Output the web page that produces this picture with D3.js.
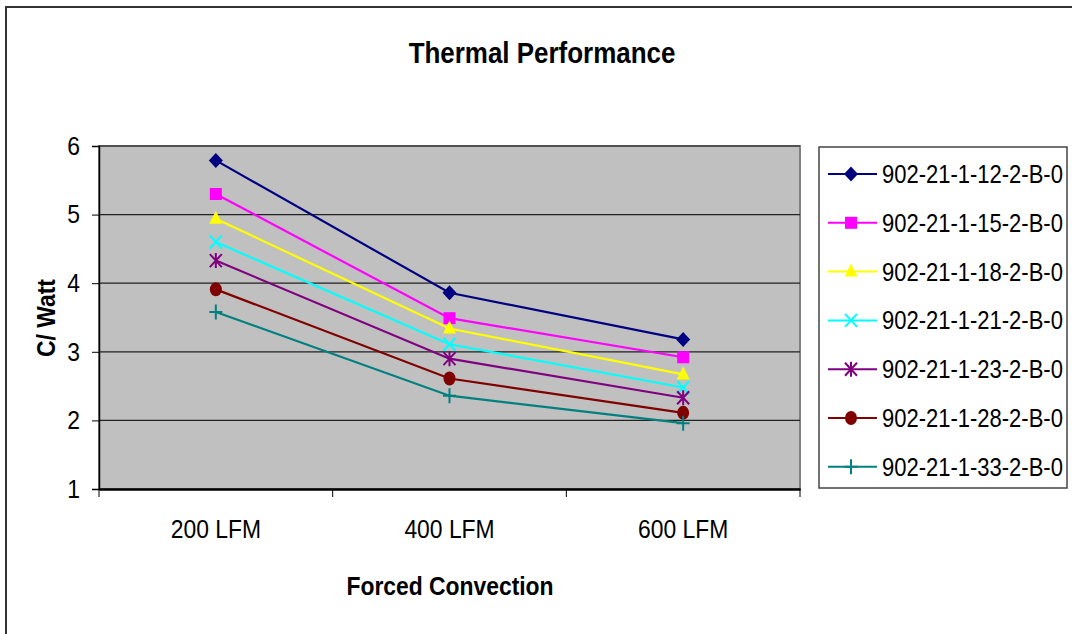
<!DOCTYPE html>
<html>
<head>
<meta charset="utf-8">
<script src="https://cdn.jsdelivr.net/npm/d3@7"></script>
<style>
  body { margin: 0; background: #fff; }
  svg { font-family: "Liberation Sans", Arial, sans-serif; }
</style>
</head>
<body>
<svg id="chart" width="1072" height="634"></svg>
<script>
// data
const categories = ["200 LFM", "400 LFM", "600 LFM"]
const seriesNames = [
  "902-21-1-12-2-B-0", "902-21-1-15-2-B-0", "902-21-1-18-2-B-0",
  "902-21-1-21-2-B-0", "902-21-1-23-2-B-0", "902-21-1-28-2-B-0",
  "902-21-1-33-2-B-0"
]
const v12 = [5.79, 3.86, 3.18]
const v15 = [5.30, 3.49, 2.92]
const v18 = [4.94, 3.34, 2.67]
const v21 = [4.60, 3.11, 2.48]
const v23 = [4.33, 2.90, 2.33]
const v28 = [3.91, 2.61, 2.11]
const v33 = [3.58, 2.36, 1.96]
const yTicks = [1, 2, 3, 4, 5, 6]

const seriesValues = [v12, v15, v18, v21, v23, v28, v33]
const colors = ["#000080", "#FF00FF", "#FFFF00", "#00FFFF", "#800080", "#800000", "#008080"]
const shapes = ["diamond", "square", "triangle", "x", "star", "circle", "plus"]

// the original font is a narrow, tall face: squeeze text horizontally
const squeeze = 0.88

const svg = d3.select("#chart")

// outer chart frame (left and top only visible)
svg.append("path")
    .attr("d", "M6,634 L6,7 L1072,7")
    .attr("fill", "none")
    .attr("stroke", "#333")
    .attr("stroke-width", 2)

const plot = {left: 99, right: 800, top: 146, bottom: 489}

const x = d3.scaleBand().domain(categories).range([plot.left, plot.right])
const y = d3.scaleLinear().domain([1, 6]).range([plot.bottom, plot.top])

// plot area
svg.append("rect")
    .attr("x", plot.left).attr("y", plot.top)
    .attr("width", plot.right - plot.left).attr("height", plot.bottom - plot.top)
    .attr("fill", "#C0C0C0")
    .attr("stroke", "#808080")
    .attr("stroke-width", 2)

// gridlines
svg.append("g")
  .selectAll("line")
  .data(yTicks.slice(1))
  .join("line")
    .attr("x1", plot.left).attr("x2", plot.right)
    .attr("y1", d => y(d)).attr("y2", d => y(d))
    .attr("stroke", "#222")
    .attr("stroke-width", 1.2)

// y axis
const yAxis = svg.append("g")
    .attr("transform", `translate(${plot.left},0)`)
    .call(d3.axisLeft(y).tickValues(yTicks).tickSize(7).tickPadding(12).tickFormat(d3.format("d")))
yAxis.select(".domain").attr("stroke", "#000").attr("stroke-width", 1.5)
yAxis.selectAll(".tick line").attr("stroke", "#000")
yAxis.selectAll("text")
    .attr("font-size", 26).attr("fill", "#000").attr("font-family", null)
    .attr("x", -19 / squeeze)
    .attr("transform", `scale(${squeeze},1)`)

// x axis
const xAxis = svg.append("g")
    .attr("transform", `translate(0,${plot.bottom})`)
    .call(d3.axisBottom(x).tickSize(0).tickPadding(30))
xAxis.select(".domain").attr("stroke", "#000").attr("stroke-width", 2.5)
xAxis.selectAll("text")
    .attr("font-size", 26).attr("fill", "#000").attr("font-family", null)
    .attr("y", 31)
    .attr("transform", `scale(${squeeze},1)`)
// tick marks between categories
xAxis.selectAll(".sep")
  .data(categories.map(c => x(c)).concat([x.range()[1]]))
  .join("line")
    .attr("class", "sep")
    .attr("x1", d => d).attr("x2", d => d)
    .attr("y1", 0).attr("y2", 8)
    .attr("stroke", "#000")

// markers
function markerPath(shape) {
  const p = d3.path()
  if (shape === "diamond") {
    p.moveTo(0, -7.5); p.lineTo(7, 0); p.lineTo(0, 7.5); p.lineTo(-7, 0); p.closePath()
  } else if (shape === "square") {
    p.rect(-6, -6, 12, 12)
  } else if (shape === "triangle") {
    p.moveTo(0, -8); p.lineTo(6.5, 5); p.lineTo(-6.5, 5); p.closePath()
  } else if (shape === "x") {
    p.moveTo(-6, -6.5); p.lineTo(6, 6.5); p.moveTo(6, -6.5); p.lineTo(-6, 6.5)
  } else if (shape === "star") {
    p.moveTo(-6, -6.5); p.lineTo(6, 6.5); p.moveTo(6, -6.5); p.lineTo(-6, 6.5)
    p.moveTo(0, -7.5); p.lineTo(0, 7.5)
  } else if (shape === "plus") {
    p.moveTo(-6.5, 0); p.lineTo(6.5, 0); p.moveTo(0, -7.5); p.lineTo(0, 7.5)
  }
  return p.toString()
}

function drawMarker(g, shape, color) {
  if (shape === "circle") {
    g.append("ellipse").attr("rx", 6).attr("ry", 7).attr("fill", color)
  } else if (shape === "x" || shape === "star" || shape === "plus") {
    g.append("path").attr("d", markerPath(shape)).attr("fill", "none")
      .attr("stroke", color).attr("stroke-width", 2)
  } else {
    g.append("path").attr("d", markerPath(shape)).attr("fill", color)
  }
}

const line = d3.line()
    .x((d, i) => x(categories[i]) + x.bandwidth() / 2)
    .y(d => y(d))

const series = svg.append("g")
  .selectAll("g")
  .data(seriesValues)
  .join("g")

series.append("path")
    .attr("d", d => line(d))
    .attr("fill", "none")
    .attr("stroke", (d, i) => colors[i])
    .attr("stroke-width", 2.2)

series.each(function(vals, si) {
  vals.forEach((v, i) => {
    const g = d3.select(this).append("g")
        .attr("transform", `translate(${x(categories[i]) + x.bandwidth() / 2},${y(v)})`)
    drawMarker(g, shapes[si], colors[si])
  })
})

// titles
svg.append("text")
    .attr("transform", `translate(542,63) scale(${squeeze},1)`)
    .attr("text-anchor", "middle")
    .attr("font-size", 29.5).attr("font-weight", "bold")
    .text("Thermal Performance")

svg.append("text")
    .attr("transform", `translate(450,595) scale(${squeeze},1)`)
    .attr("text-anchor", "middle")
    .attr("font-size", 26).attr("font-weight", "bold")
    .text("Forced Convection")

svg.append("text")
    .attr("transform", `translate(55,318) rotate(-90) scale(${squeeze},1)`)
    .attr("text-anchor", "middle")
    .attr("font-size", 26).attr("font-weight", "bold")
    .text("C/ Watt")

// legend
const legend = svg.append("g")
legend.append("rect")
    .attr("x", 819).attr("y", 147)
    .attr("width", 248).attr("height", 341)
    .attr("fill", "#fff")
    .attr("stroke", "#444")
    .attr("stroke-width", 1.5)

const item = legend.selectAll(".item")
  .data(seriesNames)
  .join("g")
    .attr("class", "item")
    .attr("transform", (d, i) => `translate(0,${174 + i * 48.8})`)

item.append("line")
    .attr("x1", 828).attr("x2", 877)
    .attr("stroke", (d, i) => colors[i])
    .attr("stroke-width", 2)

item.each(function(d, i) {
  const g = d3.select(this).append("g").attr("transform", "translate(851,0)")
  drawMarker(g, shapes[i], colors[i])
})

item.append("text")
    .attr("transform", `translate(882,0) scale(${squeeze},1)`)
    .attr("dy", "0.36em")
    .attr("font-size", 25)
    .text(d => d)
</script>
</body>
</html>
